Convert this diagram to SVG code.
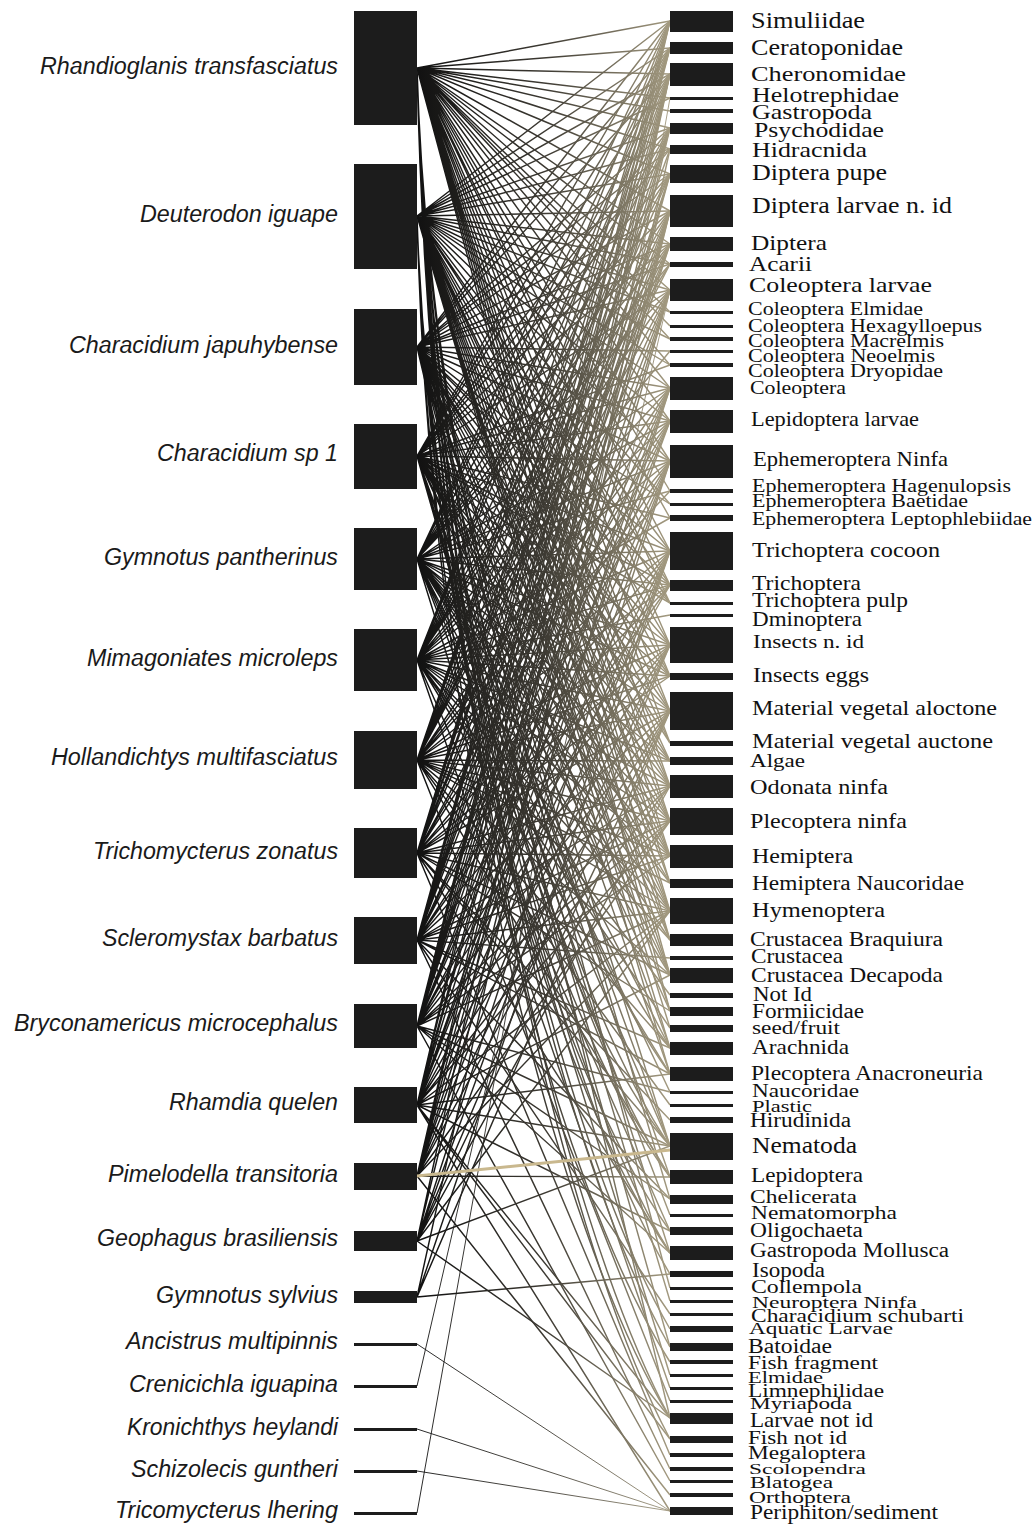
<svg xmlns="http://www.w3.org/2000/svg" width="1036" height="1524" viewBox="0 0 1036 1524">
<style>
.bar{fill:#1c1c1c}
.fl{font-family:"Liberation Sans",Arial,sans-serif;font-style:italic;font-size:23.3px;fill:#1a1a1a}
.pl{font-family:"Liberation Serif","Times New Roman",serif;fill:#111}
.e{fill:none;stroke:url(#g);stroke-width:1.45}
.e2{fill:none;stroke:url(#g);stroke-width:0.9}
.tan{fill:none;stroke:#c9b88e;stroke-width:3}
</style>
<defs>
<linearGradient id="g" gradientUnits="userSpaceOnUse" x1="417" y1="0" x2="670" y2="0">
<stop offset="0" stop-color="#111"/><stop offset="0.5" stop-color="#3c3932"/><stop offset="1" stop-color="#a39a80"/>
</linearGradient>
</defs>
<rect width="1036" height="1524" fill="#fff"/>
<g id="connectors">
<path class="e" d="M417 68L670 21M417 68L670 48M417 68L670 74M417 68L670 98M417 68L670 111M417 68L670 128M417 68L670 149M417 68L670 174M417 68L670 211M417 68L670 244M417 68L670 290M417 68L670 312M417 68L670 326M417 68L670 388M417 68L670 421M417 68L670 461M417 68L670 518M417 68L670 551M417 68L670 585M417 68L670 645M417 68L670 711M417 68L670 786M417 68L670 821M417 68L670 856M417 68L670 911M417 68L670 940M417 68L670 975M417 68L670 1011M417 68L670 264M417 68L670 339M417 68L670 365M417 68L670 491M417 68L670 603M417 68L670 676M417 68L670 743M417 68L670 883"/>
<path class="e" d="M417 68C430 509 560 901 670 1048M417 68C430 521 560 923 670 1074M417 68C430 553 560 984 670 1146M417 68C430 567 560 1011 670 1177M417 68C430 601 560 1075 670 1253M417 68C430 611 560 1093 670 1274M417 68C430 635 560 1140 670 1329M417 68C430 644 560 1155 670 1347M417 68C430 676 560 1216 670 1418M417 68C430 685 560 1233 670 1439"/>
<path class="e" d="M417 216L670 21M417 216L670 48M417 216L670 74M417 216L670 128M417 216L670 174M417 216L670 211M417 216L670 244M417 216L670 264M417 216L670 290M417 216L670 339M417 216L670 388M417 216L670 421M417 216L670 461M417 216L670 551M417 216L670 585M417 216L670 645M417 216L670 676M417 216L670 711M417 216L670 761M417 216L670 786M417 216L670 821M417 216L670 856M417 216L670 883M417 216L670 911M417 216L670 975M417 216L670 1011M417 216L670 1028M417 216L670 1048M417 216L670 1074M417 216L670 98M417 216L670 149M417 216L670 312M417 216L670 365M417 216L670 504M417 216L670 603M417 216L670 743M417 216L670 940"/>
<path class="e" d="M417 216C430 635 560 1007 670 1146M417 216C430 648 560 1033 670 1177M417 216C430 673 560 1079 670 1231M417 216C430 683 560 1097 670 1253M417 216C430 732 560 1190 670 1362M417 216C430 757 560 1238 670 1418"/>
<path class="e" d="M417 347L670 21M417 347L670 74M417 347L670 174M417 347L670 211M417 347L670 244M417 347L670 290M417 347L670 351M417 347L670 388M417 347L670 421M417 347L670 461M417 347L670 504M417 347L670 551M417 347L670 603M417 347L670 645M417 347L670 711M417 347L670 743M417 347L670 786M417 347L670 821M417 347L670 856M417 347L670 911M417 347L670 1074M417 347L670 1146M417 347L670 1199M417 347L670 1288M417 347L670 1418M417 347L670 48M417 347L670 128M417 347L670 149M417 347L670 264M417 347L670 585M417 347L670 676M417 347L670 761M417 347L670 940M417 347L670 975M417 347L670 1048"/>
<path class="e" d="M417 456L670 21M417 456L670 48M417 456L670 74M417 456L670 149M417 456L670 211M417 456L670 290M417 456L670 365M417 456L670 421M417 456L670 461M417 456L670 551M417 456L670 585M417 456L670 645M417 456L670 711M417 456L670 786M417 456L670 821M417 456L670 856M417 456L670 911M417 456L670 975M417 456L670 1146M417 456L670 1177M417 456L670 1301M417 456L670 1347M417 456L670 128M417 456L670 174M417 456L670 244M417 456L670 388M417 456L670 518M417 456L670 603M417 456L670 676M417 456L670 761M417 456L670 883M417 456L670 1011M417 456L670 1253"/>
<path class="e" d="M417 559L670 21M417 559L670 74M417 559L670 128M417 559L670 211M417 559L670 244M417 559L670 290M417 559L670 388M417 559L670 461M417 559L670 491M417 559L670 551M417 559L670 645M417 559L670 711M417 559L670 786M417 559L670 821M417 559L670 856M417 559L670 911M417 559L670 940M417 559L670 1048M417 559L670 1146M417 559L670 1215M417 559L670 1375M417 559L670 48M417 559L670 174M417 559L670 264M417 559L670 421M417 559L670 585M417 559L670 676M417 559L670 761M417 559L670 883M417 559L670 975M417 559L670 1092"/>
<path class="e" d="M417 660L670 21M417 660L670 48M417 660L670 74M417 660L670 174M417 660L670 211M417 660L670 264M417 660L670 290M417 660L670 388M417 660L670 421M417 660L670 461M417 660L670 551M417 660L670 615M417 660L670 645M417 660L670 676M417 660L670 711M417 660L670 761M417 660L670 821M417 660L670 911M417 660L670 995M417 660L670 1028M417 660L670 1388M417 660L670 128M417 660L670 244M417 660L670 351M417 660L670 518M417 660L670 585M417 660L670 786M417 660L670 856M417 660L670 940M417 660L670 1074M417 660L670 1231"/>
<path class="e" d="M417 760L670 21M417 760L670 74M417 760L670 128M417 760L670 174M417 760L670 211M417 760L670 290M417 760L670 388M417 760L670 421M417 760L670 461M417 760L670 551M417 760L670 585M417 760L670 645M417 760L670 711M417 760L670 786M417 760L670 856M417 760L670 883M417 760L670 975M417 760L670 1105M417 760L670 1401M417 760L670 48M417 760L670 244M417 760L670 264M417 760L670 491M417 760L670 676M417 760L670 761M417 760L670 821M417 760L670 911M417 760L670 1048M417 760L670 1177"/>
<path class="e" d="M417 853L670 48M417 853L670 74M417 853L670 149M417 853L670 211M417 853L670 244M417 853L670 388M417 853L670 421M417 853L670 461M417 853L670 551M417 853L670 645M417 853L670 711M417 853L670 786M417 853L670 821M417 853L670 911M417 853L670 1120M417 853L670 1253M417 853L670 1455M417 853L670 21M417 853L670 128M417 853L670 290M417 853L670 585M417 853L670 676M417 853L670 856M417 853L670 975M417 853L670 1011M417 853L670 1146"/>
<path class="e" d="M417 940L670 21M417 940L670 74M417 940L670 174M417 940L670 211M417 940L670 290M417 940L670 421M417 940L670 461M417 940L670 551M417 940L670 645M417 940L670 711M417 940L670 821M417 940L670 856M417 940L670 958M417 940L670 1074M417 940L670 1314M417 940L670 1469M417 940L670 48M417 940L670 128M417 940L670 244M417 940L670 388M417 940L670 585M417 940L670 786M417 940L670 911M417 940L670 1048M417 940L670 1199"/>
<path class="e" d="M417 1026L670 74M417 1026L670 128M417 1026L670 211M417 1026L670 244M417 1026L670 388M417 1026L670 461M417 1026L670 551M417 1026L670 645M417 1026L670 711M417 1026L670 786M417 1026L670 856M417 1026L670 911M417 1026L670 1092M417 1026L670 1199M417 1026L670 1481M417 1026L670 21M417 1026L670 48M417 1026L670 174M417 1026L670 290M417 1026L670 421M417 1026L670 585M417 1026L670 821M417 1026L670 1146M417 1026L670 1253"/>
<path class="e" d="M417 1105L670 174M417 1105L670 211M417 1105L670 421M417 1105L670 461M417 1105L670 551M417 1105L670 645M417 1105L670 711M417 1105L670 821M417 1105L670 975M417 1105L670 1146M417 1105L670 1231M417 1105L670 1418M417 1105L670 1439M417 1105L670 1511M417 1105L670 21M417 1105L670 74M417 1105L670 290M417 1105L670 388M417 1105L670 786M417 1105L670 911M417 1105L670 1074"/>
<path class="e" d="M417 1176L670 211M417 1176L670 290M417 1176L670 461M417 1176L670 551M417 1176L670 645M417 1176L670 711M417 1176L670 1177M417 1176L670 1495M417 1176L670 74M417 1176L670 128M417 1176L670 388M417 1176L670 821M417 1176L670 911"/>
<path class="e" d="M417 1241L670 461M417 1241L670 551M417 1241L670 645M417 1241L670 711M417 1241L670 786M417 1241L670 911M417 1241L670 1418M417 1241L670 74M417 1241L670 211M417 1241L670 1146"/>
<path class="e" d="M417 1297L670 149M417 1297L670 551M417 1297L670 711M417 1297L670 1274"/>
<path class="e2" d="M417 1344L670 1511M417 1386L670 290M417 1429L670 1511M417 1471L670 1511M417 1513L670 98"/>
<path class="tan" d="M417 1176L670 1150"/>
</g>
<g id="l1"><rect class="bar" x="354" y="11" width="63" height="114"/><text class="fl" x="40" y="74" textLength="298" lengthAdjust="spacingAndGlyphs">Rhandioglanis transfasciatus</text></g>
<g id="l2"><rect class="bar" x="354" y="164" width="63" height="105"/><text class="fl" x="140" y="222" textLength="198" lengthAdjust="spacingAndGlyphs">Deuterodon iguape</text></g>
<g id="l3"><rect class="bar" x="354" y="309" width="63" height="76"/><text class="fl" x="69" y="353" textLength="269" lengthAdjust="spacingAndGlyphs">Characidium japuhybense</text></g>
<g id="l4"><rect class="bar" x="354" y="424" width="63" height="65"/><text class="fl" x="157" y="461" textLength="181" lengthAdjust="spacingAndGlyphs">Characidium sp 1</text></g>
<g id="l5"><rect class="bar" x="354" y="528" width="63" height="62"/><text class="fl" x="104" y="565" textLength="234" lengthAdjust="spacingAndGlyphs">Gymnotus pantherinus</text></g>
<g id="l6"><rect class="bar" x="354" y="629" width="63" height="62"/><text class="fl" x="87" y="666" textLength="251" lengthAdjust="spacingAndGlyphs">Mimagoniates microleps</text></g>
<g id="l7"><rect class="bar" x="354" y="731" width="63" height="58"/><text class="fl" x="51" y="765" textLength="287" lengthAdjust="spacingAndGlyphs">Hollandichtys multifasciatus</text></g>
<g id="l8"><rect class="bar" x="354" y="828" width="63" height="50"/><text class="fl" x="93" y="859" textLength="245" lengthAdjust="spacingAndGlyphs">Trichomycterus zonatus</text></g>
<g id="l9"><rect class="bar" x="354" y="917" width="63" height="47"/><text class="fl" x="102" y="946" textLength="236" lengthAdjust="spacingAndGlyphs">Scleromystax barbatus</text></g>
<g id="l10"><rect class="bar" x="354" y="1004" width="63" height="44"/><text class="fl" x="14" y="1031" textLength="324" lengthAdjust="spacingAndGlyphs">Bryconamericus microcephalus</text></g>
<g id="l11"><rect class="bar" x="354" y="1087" width="63" height="36"/><text class="fl" x="169" y="1110" textLength="169" lengthAdjust="spacingAndGlyphs">Rhamdia quelen</text></g>
<g id="l12"><rect class="bar" x="354" y="1163" width="63" height="27"/><text class="fl" x="108" y="1182" textLength="230" lengthAdjust="spacingAndGlyphs">Pimelodella transitoria</text></g>
<g id="l13"><rect class="bar" x="354" y="1231" width="63" height="20"/><text class="fl" x="97" y="1246" textLength="241" lengthAdjust="spacingAndGlyphs">Geophagus brasiliensis</text></g>
<g id="l14"><rect class="bar" x="354" y="1291" width="63" height="12"/><text class="fl" x="156" y="1303" textLength="182" lengthAdjust="spacingAndGlyphs">Gymnotus sylvius</text></g>
<g id="l15"><rect class="bar" x="354" y="1343" width="63" height="3"/><text class="fl" x="126" y="1349" textLength="212" lengthAdjust="spacingAndGlyphs">Ancistrus multipinnis</text></g>
<g id="l16"><rect class="bar" x="354" y="1385" width="63" height="3"/><text class="fl" x="129" y="1392" textLength="209" lengthAdjust="spacingAndGlyphs">Crenicichla iguapina</text></g>
<g id="l17"><rect class="bar" x="354" y="1428" width="63" height="3"/><text class="fl" x="127" y="1435" textLength="211" lengthAdjust="spacingAndGlyphs">Kronichthys heylandi</text></g>
<g id="l18"><rect class="bar" x="354" y="1470" width="63" height="3"/><text class="fl" x="131" y="1477" textLength="207" lengthAdjust="spacingAndGlyphs">Schizolecis guntheri</text></g>
<g id="l19"><rect class="bar" x="354" y="1512" width="63" height="3"/><text class="fl" x="115" y="1518" textLength="223" lengthAdjust="spacingAndGlyphs">Tricomycterus lhering</text></g>
<g id="r1"><rect class="bar" x="670" y="11" width="63" height="21"/><text class="pl" x="751" y="28" font-size="22.7" textLength="114" lengthAdjust="spacingAndGlyphs">Simuliidae</text></g>
<g id="r2"><rect class="bar" x="670" y="42" width="63" height="12"/><text class="pl" x="751" y="55" font-size="22.7" textLength="152" lengthAdjust="spacingAndGlyphs">Ceratoponidae</text></g>
<g id="r3"><rect class="bar" x="670" y="63" width="63" height="23"/><text class="pl" x="751" y="81" font-size="21.5" textLength="155" lengthAdjust="spacingAndGlyphs">Cheronomidae</text></g>
<g id="r4"><rect class="bar" x="670" y="97" width="63" height="3"/><text class="pl" x="752" y="102" font-size="22" textLength="147" lengthAdjust="spacingAndGlyphs">Helotrephidae</text></g>
<g id="r5"><rect class="bar" x="670" y="109" width="63" height="4"/><text class="pl" x="752" y="119" font-size="21" textLength="120" lengthAdjust="spacingAndGlyphs">Gastropoda</text></g>
<g id="r6"><rect class="bar" x="670" y="123" width="63" height="11"/><text class="pl" x="754" y="137" font-size="22" textLength="130" lengthAdjust="spacingAndGlyphs">Psychodidae</text></g>
<g id="r7"><rect class="bar" x="670" y="145" width="63" height="9"/><text class="pl" x="752" y="157" font-size="22" textLength="115" lengthAdjust="spacingAndGlyphs">Hidracnida</text></g>
<g id="r8"><rect class="bar" x="670" y="165" width="63" height="18"/><text class="pl" x="752" y="180" font-size="22.7" textLength="135" lengthAdjust="spacingAndGlyphs">Diptera pupe</text></g>
<g id="r9"><rect class="bar" x="670" y="195" width="63" height="32"/><text class="pl" x="752" y="213" font-size="22.7" textLength="200" lengthAdjust="spacingAndGlyphs">Diptera larvae n. id</text></g>
<g id="r10"><rect class="bar" x="670" y="237" width="63" height="14"/><text class="pl" x="751" y="250" font-size="21" textLength="76" lengthAdjust="spacingAndGlyphs">Diptera</text></g>
<g id="r11"><rect class="bar" x="670" y="262" width="63" height="5"/><text class="pl" x="749" y="271" font-size="21" textLength="63" lengthAdjust="spacingAndGlyphs">Acarii</text></g>
<g id="r12"><rect class="bar" x="670" y="279" width="63" height="22"/><text class="pl" x="749" y="292" font-size="21" textLength="183" lengthAdjust="spacingAndGlyphs">Coleoptera larvae</text></g>
<g id="r13"><rect class="bar" x="670" y="311" width="63" height="3"/><text class="pl" x="748" y="315" font-size="18.5" textLength="175" lengthAdjust="spacingAndGlyphs">Coleoptera Elmidae</text></g>
<g id="r14"><rect class="bar" x="670" y="325" width="63" height="3"/><text class="pl" x="748" y="332" font-size="19.5" textLength="234" lengthAdjust="spacingAndGlyphs">Coleoptera Hexagylloepus</text></g>
<g id="r15"><rect class="bar" x="670" y="337" width="63" height="4"/><text class="pl" x="748" y="347" font-size="19.5" textLength="196" lengthAdjust="spacingAndGlyphs">Coleoptera Macrelmis</text></g>
<g id="r16"><rect class="bar" x="670" y="350" width="63" height="3"/><text class="pl" x="748" y="362" font-size="19.5" textLength="187" lengthAdjust="spacingAndGlyphs">Coleoptera Neoelmis</text></g>
<g id="r17"><rect class="bar" x="670" y="363" width="63" height="4"/><text class="pl" x="748" y="377" font-size="19.5" textLength="195" lengthAdjust="spacingAndGlyphs">Coleoptera Dryopidae</text></g>
<g id="r18"><rect class="bar" x="670" y="377" width="63" height="23"/><text class="pl" x="750" y="394" font-size="18.5" textLength="96" lengthAdjust="spacingAndGlyphs">Coleoptera</text></g>
<g id="r19"><rect class="bar" x="670" y="410" width="63" height="23"/><text class="pl" x="751" y="426" font-size="21" textLength="168" lengthAdjust="spacingAndGlyphs">Lepidoptera larvae</text></g>
<g id="r20"><rect class="bar" x="670" y="445" width="63" height="33"/><text class="pl" x="753" y="466" font-size="21" textLength="195" lengthAdjust="spacingAndGlyphs">Ephemeroptera Ninfa</text></g>
<g id="r21"><rect class="bar" x="670" y="489" width="63" height="4"/><text class="pl" x="752" y="492" font-size="18.5" textLength="259" lengthAdjust="spacingAndGlyphs">Ephemeroptera Hagenulopsis</text></g>
<g id="r22"><rect class="bar" x="670" y="503" width="63" height="3"/><text class="pl" x="752" y="507" font-size="18.5" textLength="216" lengthAdjust="spacingAndGlyphs">Ephemeroptera Baetidae</text></g>
<g id="r23"><rect class="bar" x="670" y="515" width="63" height="6"/><text class="pl" x="752" y="525" font-size="18.5" textLength="280" lengthAdjust="spacingAndGlyphs">Ephemeroptera Leptophlebiidae</text></g>
<g id="r24"><rect class="bar" x="670" y="532" width="63" height="38"/><text class="pl" x="752" y="557" font-size="21.5" textLength="188" lengthAdjust="spacingAndGlyphs">Trichoptera cocoon</text></g>
<g id="r25"><rect class="bar" x="670" y="580" width="63" height="11"/><text class="pl" x="752" y="590" font-size="21" textLength="109" lengthAdjust="spacingAndGlyphs">Trichoptera</text></g>
<g id="r26"><rect class="bar" x="670" y="602" width="63" height="3"/><text class="pl" x="752" y="607" font-size="21" textLength="156" lengthAdjust="spacingAndGlyphs">Trichoptera pulp</text></g>
<g id="r27"><rect class="bar" x="670" y="614" width="63" height="3"/><text class="pl" x="752" y="626" font-size="21" textLength="110" lengthAdjust="spacingAndGlyphs">Dminoptera</text></g>
<g id="r28"><rect class="bar" x="670" y="627" width="63" height="36"/><text class="pl" x="753" y="648" font-size="19" textLength="111" lengthAdjust="spacingAndGlyphs">Insects n. id</text></g>
<g id="r29"><rect class="bar" x="670" y="673" width="63" height="7"/><text class="pl" x="753" y="682" font-size="21" textLength="116" lengthAdjust="spacingAndGlyphs">Insects eggs</text></g>
<g id="r30"><rect class="bar" x="670" y="692" width="63" height="38"/><text class="pl" x="752" y="715" font-size="21" textLength="245" lengthAdjust="spacingAndGlyphs">Material vegetal aloctone</text></g>
<g id="r31"><rect class="bar" x="670" y="741" width="63" height="5"/><text class="pl" x="752" y="748" font-size="22" textLength="241" lengthAdjust="spacingAndGlyphs">Material vegetal auctone</text></g>
<g id="r32"><rect class="bar" x="670" y="757" width="63" height="8"/><text class="pl" x="750" y="767" font-size="18.5" textLength="55" lengthAdjust="spacingAndGlyphs">Algae</text></g>
<g id="r33"><rect class="bar" x="670" y="775" width="63" height="23"/><text class="pl" x="750" y="794" font-size="20" textLength="138" lengthAdjust="spacingAndGlyphs">Odonata ninfa</text></g>
<g id="r34"><rect class="bar" x="670" y="808" width="63" height="27"/><text class="pl" x="750" y="828" font-size="22" textLength="157" lengthAdjust="spacingAndGlyphs">Plecoptera ninfa</text></g>
<g id="r35"><rect class="bar" x="670" y="845" width="63" height="23"/><text class="pl" x="752" y="863" font-size="20" textLength="101" lengthAdjust="spacingAndGlyphs">Hemiptera</text></g>
<g id="r36"><rect class="bar" x="670" y="879" width="63" height="9"/><text class="pl" x="752" y="890" font-size="20" textLength="212" lengthAdjust="spacingAndGlyphs">Hemiptera Naucoridae</text></g>
<g id="r37"><rect class="bar" x="670" y="898" width="63" height="26"/><text class="pl" x="752" y="917" font-size="22" textLength="133" lengthAdjust="spacingAndGlyphs">Hymenoptera</text></g>
<g id="r38"><rect class="bar" x="670" y="934" width="63" height="12"/><text class="pl" x="750" y="946" font-size="20" textLength="193" lengthAdjust="spacingAndGlyphs">Crustacea Braquiura</text></g>
<g id="r39"><rect class="bar" x="670" y="956" width="63" height="4"/><text class="pl" x="751" y="963" font-size="21" textLength="92" lengthAdjust="spacingAndGlyphs">Crustacea</text></g>
<g id="r40"><rect class="bar" x="670" y="968" width="63" height="15"/><text class="pl" x="751" y="982" font-size="21" textLength="192" lengthAdjust="spacingAndGlyphs">Crustacea Decapoda</text></g>
<g id="r41"><rect class="bar" x="670" y="993" width="63" height="5"/><text class="pl" x="753" y="1001" font-size="21" textLength="59" lengthAdjust="spacingAndGlyphs">Not Id</text></g>
<g id="r42"><rect class="bar" x="670" y="1007" width="63" height="9"/><text class="pl" x="752" y="1018" font-size="20" textLength="112" lengthAdjust="spacingAndGlyphs">Formiicidae</text></g>
<g id="r43"><rect class="bar" x="670" y="1025" width="63" height="7"/><text class="pl" x="752" y="1034" font-size="18.5" textLength="88" lengthAdjust="spacingAndGlyphs">seed/fruit</text></g>
<g id="r44"><rect class="bar" x="670" y="1042" width="63" height="13"/><text class="pl" x="752" y="1054" font-size="21" textLength="97" lengthAdjust="spacingAndGlyphs">Arachnida</text></g>
<g id="r45"><rect class="bar" x="670" y="1067" width="63" height="14"/><text class="pl" x="751" y="1080" font-size="21" textLength="232" lengthAdjust="spacingAndGlyphs">Plecoptera Anacroneuria</text></g>
<g id="r46"><rect class="bar" x="670" y="1091" width="63" height="3"/><text class="pl" x="752" y="1097" font-size="18.5" textLength="107" lengthAdjust="spacingAndGlyphs">Naucoridae</text></g>
<g id="r47"><rect class="bar" x="670" y="1104" width="63" height="3"/><text class="pl" x="752" y="1112" font-size="17" textLength="60" lengthAdjust="spacingAndGlyphs">Plastic</text></g>
<g id="r48"><rect class="bar" x="670" y="1117" width="63" height="6"/><text class="pl" x="750" y="1127" font-size="20" textLength="101" lengthAdjust="spacingAndGlyphs">Hirudinida</text></g>
<g id="r49"><rect class="bar" x="670" y="1133" width="63" height="27"/><text class="pl" x="752" y="1153" font-size="24" textLength="105" lengthAdjust="spacingAndGlyphs">Nematoda</text></g>
<g id="r50"><rect class="bar" x="670" y="1170" width="63" height="14"/><text class="pl" x="751" y="1182" font-size="21" textLength="112" lengthAdjust="spacingAndGlyphs">Lepidoptera</text></g>
<g id="r51"><rect class="bar" x="670" y="1195" width="63" height="9"/><text class="pl" x="750" y="1203" font-size="18.5" textLength="107" lengthAdjust="spacingAndGlyphs">Chelicerata</text></g>
<g id="r52"><rect class="bar" x="670" y="1214" width="63" height="3"/><text class="pl" x="751" y="1219" font-size="18.5" textLength="146" lengthAdjust="spacingAndGlyphs">Nematomorpha</text></g>
<g id="r53"><rect class="bar" x="670" y="1227" width="63" height="8"/><text class="pl" x="750" y="1237" font-size="20" textLength="113" lengthAdjust="spacingAndGlyphs">Oligochaeta</text></g>
<g id="r54"><rect class="bar" x="670" y="1246" width="63" height="14"/><text class="pl" x="750" y="1257" font-size="20" textLength="199" lengthAdjust="spacingAndGlyphs">Gastropoda Mollusca</text></g>
<g id="r55"><rect class="bar" x="670" y="1271" width="63" height="6"/><text class="pl" x="752" y="1277" font-size="21" textLength="73" lengthAdjust="spacingAndGlyphs">Isopoda</text></g>
<g id="r56"><rect class="bar" x="670" y="1287" width="63" height="3"/><text class="pl" x="751" y="1293" font-size="18.5" textLength="111" lengthAdjust="spacingAndGlyphs">Collempola</text></g>
<g id="r57"><rect class="bar" x="670" y="1300" width="63" height="3"/><text class="pl" x="752" y="1308" font-size="16" textLength="165" lengthAdjust="spacingAndGlyphs">Neuroptera Ninfa</text></g>
<g id="r58"><rect class="bar" x="670" y="1313" width="63" height="3"/><text class="pl" x="751" y="1322" font-size="18" textLength="213" lengthAdjust="spacingAndGlyphs">Characidium schubarti</text></g>
<g id="r59"><rect class="bar" x="670" y="1326" width="63" height="6"/><text class="pl" x="749" y="1334" font-size="17" textLength="144" lengthAdjust="spacingAndGlyphs">Aquatic Larvae</text></g>
<g id="r60"><rect class="bar" x="670" y="1343" width="63" height="8"/><text class="pl" x="748" y="1353" font-size="20" textLength="84" lengthAdjust="spacingAndGlyphs">Batoidae</text></g>
<g id="r61"><rect class="bar" x="670" y="1360" width="63" height="4"/><text class="pl" x="748" y="1369" font-size="18.5" textLength="130" lengthAdjust="spacingAndGlyphs">Fish fragment</text></g>
<g id="r62"><rect class="bar" x="670" y="1374" width="63" height="3"/><text class="pl" x="748" y="1383" font-size="17" textLength="75" lengthAdjust="spacingAndGlyphs">Elmidae</text></g>
<g id="r63"><rect class="bar" x="670" y="1387" width="63" height="3"/><text class="pl" x="748" y="1397" font-size="19" textLength="136" lengthAdjust="spacingAndGlyphs">Limnephilidae</text></g>
<g id="r64"><rect class="bar" x="670" y="1400" width="63" height="3"/><text class="pl" x="750" y="1409" font-size="16" textLength="102" lengthAdjust="spacingAndGlyphs">Myriapoda</text></g>
<g id="r65"><rect class="bar" x="670" y="1413" width="63" height="11"/><text class="pl" x="750" y="1427" font-size="21" textLength="123" lengthAdjust="spacingAndGlyphs">Larvae not id</text></g>
<g id="r66"><rect class="bar" x="670" y="1436" width="63" height="7"/><text class="pl" x="748" y="1444" font-size="18.5" textLength="99" lengthAdjust="spacingAndGlyphs">Fish not id</text></g>
<g id="r67"><rect class="bar" x="670" y="1453" width="63" height="4"/><text class="pl" x="748" y="1459" font-size="18.5" textLength="118" lengthAdjust="spacingAndGlyphs">Megaloptera</text></g>
<g id="r68"><rect class="bar" x="670" y="1467" width="63" height="4"/><text class="pl" x="749" y="1474" font-size="15" textLength="117" lengthAdjust="spacingAndGlyphs">Scolopendra</text></g>
<g id="r69"><rect class="bar" x="670" y="1480" width="63" height="3"/><text class="pl" x="750" y="1488" font-size="17" textLength="83" lengthAdjust="spacingAndGlyphs">Blatogea</text></g>
<g id="r70"><rect class="bar" x="670" y="1493" width="63" height="4"/><text class="pl" x="749" y="1503" font-size="17" textLength="102" lengthAdjust="spacingAndGlyphs">Orthoptera</text></g>
<g id="r71"><rect class="bar" x="670" y="1507" width="63" height="8"/><text class="pl" x="750" y="1519" font-size="20" textLength="188" lengthAdjust="spacingAndGlyphs">Periphiton/sediment</text></g>
</svg>
